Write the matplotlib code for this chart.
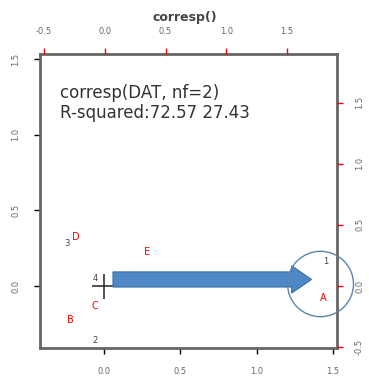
import matplotlib.pyplot as plt
from matplotlib.patches import FancyArrow, Circle

# filas (numeros, ejes inferior/izquierdo)
row_labels = ['1', '2', '3', '4']
row_x = [1.45, -0.06, -0.24, -0.06]
row_y = [0.16, -0.36, 0.28, 0.05]

# columnas (letras, ejes superior/derecho)
col_labels = ['A', 'B', 'C', 'D', 'E']
col_x = [1.80, -0.28, -0.08, -0.24, 0.35]
col_y = [-0.10, -0.28, -0.16, 0.40, 0.28]

ticks_main = [0.0, 0.5, 1.0, 1.5]
ticks_sec = [-0.5, 0.0, 0.5, 1.0, 1.5]
r2 = [72.57, 27.43]

W, H = 369, 377
fig = plt.figure(figsize=(W / 100, H / 100), dpi=100)
pos = [40 / W, 1 - 348 / H, 297 / W, 294 / H]
ax = fig.add_axes(pos)
ax2 = fig.add_axes(pos, frameon=False)

ax.set_xlim(-0.419, 1.526)
ax.set_ylim(-0.41, 1.533)
ax2.set_xlim(-0.533, 1.911)
ax2.set_ylim(-0.508, 1.90)

for s in ax.spines.values():
    s.set_color('#666666')
    s.set_linewidth(2)

ax.set_xticks(ticks_main)
ax.set_yticks(ticks_main)
ax.set_xticklabels([f'{t:.1f}' for t in ticks_main])
ax.set_yticklabels([f'{t:.1f}' for t in ticks_main], rotation=90, va='center')
ax.tick_params(length=4, width=1, color='black', labelsize=6, labelcolor='#666666', pad=10)

ax2.xaxis.tick_top()
ax2.yaxis.tick_right()
ax2.set_xticks(ticks_sec)
ax2.set_yticks(ticks_sec)
ax2.set_xticklabels([f'{t:.1f}' for t in ticks_sec])
ax2.set_yticklabels([f'{t:.1f}' for t in ticks_sec], rotation=90, va='center')
ax2.tick_params(length=4, width=1, color='red', labelsize=6, labelcolor='#666666', pad=9)

for lab, x, y in zip(row_labels, row_x, row_y):
    ax.text(x, y, lab, color='#444444', fontsize=6, ha='center', va='center')
for lab, x, y in zip(col_labels, col_x, col_y):
    ax2.text(x, y, lab, color='red', fontsize=7, ha='center', va='center')

ax.plot(0, 0, marker='+', markersize=18, color='#333333', mew=1.2)

ax.add_patch(FancyArrow(0.059, 0.043, 1.17, 0, width=0.1, head_width=0.18,
                        head_length=0.13, length_includes_head=False,
                        facecolor='#4F88C6', edgecolor='#3A6EA5', lw=0.8, zorder=3))
ax.add_patch(Circle((1.418, 0.013), 0.216, fill=False, edgecolor='#5A85B0',
                    lw=1, clip_on=False, zorder=4))

ax.text(0.067, 0.867, 'corresp(DAT, nf=2)', transform=ax.transAxes,
        fontsize=12, color='#333333', va='center')
ax.text(0.067, 0.80, f'R-squared:{r2[0]:.2f} {r2[1]:.2f}', transform=ax.transAxes,
        fontsize=12, color='#333333', va='center')

fig.text(185 / W, 1 - 18 / H, 'corresp()', ha='center', va='center',
         fontsize=9, fontweight='bold', color='#444444')

fig.savefig('out.png', dpi=100)
